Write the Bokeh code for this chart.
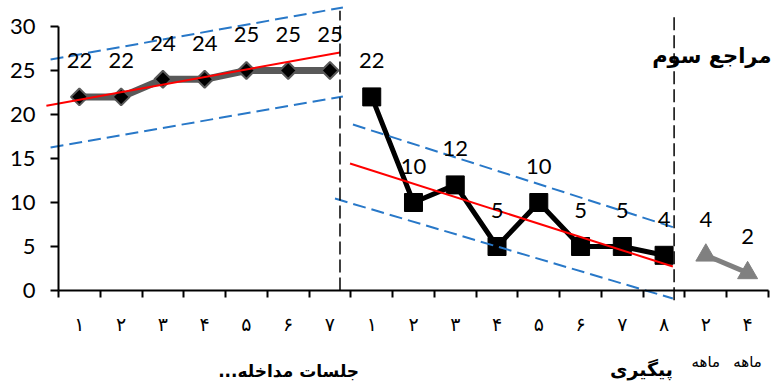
import numpy as np
from bokeh.plotting import figure
from bokeh.models import FixedTicker, ColumnDataSource, LabelSet, Label, Range1d
from bokeh.embed import file_html
from bokeh.resources import INLINE
from bokeh.core.properties import value

# ---- data ----
baseline_x = [1, 2, 3, 4, 5, 6, 7]
baseline_y = [22, 22, 24, 24, 25, 25, 25]
treat_x = [8, 9, 10, 11, 12, 13, 14, 15]
treat_y = [22, 10, 12, 5, 10, 5, 5, 4]
follow_x = [16, 17]
follow_y = [4, 2]
tick_labels = ["۱", "۲", "۳", "۴", "۵", "۶", "۷",
               "۱", "۲", "۳", "۴", "۵", "۶", "۷", "۸",
               "۲", "۴"]
y_ticks = [0, 5, 10, 15, 20, 25, 30]

# trend / band line end points (x in category units, y in values)
base_trend_x = [0.21, 7.24]
base_trend_y = [21.0, 27.05]
base_upper_x = [0.31, 7.31]
base_upper_y = [26.25, 32.16]
base_lower_x = [0.31, 7.31]
base_lower_y = [16.25, 22.05]
treat_trend_x = [7.48, 15.21]
treat_trend_y = [14.43, 2.73]
treat_upper_x = [7.55, 15.31]
treat_upper_y = [18.86, 7.05]
treat_lower_x = [7.12, 15.21]
treat_lower_y = [10.45, -0.91]

# phase change lines
phase_x = [7.24, 15.24]
phase_y0 = [0, -1.1]
phase_y1 = [31.8, 31.5]

LATIN = "Lato"
ARABIC = "DejaVu Sans"

p = figure(width=773, height=383, output_backend="svg", toolbar_location=None,
           x_range=Range1d(-0.889, 17.62), y_range=Range1d(-10.568, 32.955),
           min_border=0, min_border_left=0, min_border_right=0,
           min_border_top=0, min_border_bottom=0)
p.outline_line_color = None
p.xgrid.visible = False
p.ygrid.visible = False
p.background_fill_color = "white"
p.border_fill_color = "white"

# axes
xa = p.xaxis[0]
xa.fixed_location = 0
xa.bounds = (0.5, 17.5)
xa.ticker = FixedTicker(ticks=list(range(1, 18)),
                        minor_ticks=[i + 0.5 for i in range(0, 18)])
xa.major_label_overrides = {i + 1: t for i, t in enumerate(tick_labels)}
xa.major_tick_line_color = None
xa.major_tick_out = 7
xa.major_tick_in = 0
xa.minor_tick_out = 7
xa.minor_tick_in = 0
xa.minor_tick_line_color = "black"
xa.minor_tick_line_width = 2
xa.axis_line_width = 2
xa.axis_line_color = "black"
xa.major_label_text_font = ARABIC
xa.major_label_text_font_size = "19px"
xa.major_label_text_color = "black"
xa.major_label_standoff = 15

ya = p.yaxis[0]
ya.fixed_location = 0.5
ya.bounds = (0, 30)
ya.ticker = FixedTicker(ticks=y_ticks)
ya.minor_tick_line_color = None
ya.major_tick_out = 8
ya.major_tick_in = 0
ya.major_tick_line_width = 2
ya.axis_line_width = 2
ya.axis_line_color = "black"
ya.major_label_text_font = LATIN
ya.major_label_text_font_size = "22px"
ya.major_label_text_color = "black"
ya.major_label_standoff = 15

# series
p.line(baseline_x, baseline_y, line_color="#595959", line_width=7)
p.scatter(baseline_x, baseline_y, marker="square", angle=np.pi / 4, size=12,
          fill_color="black", line_color="#595959", line_width=2)
p.line(treat_x, treat_y, line_color="black", line_width=5)
p.scatter(treat_x, treat_y, marker="square", size=18,
          fill_color="black", line_color="black")
p.line(follow_x, follow_y, line_color="#808080", line_width=5)
p.scatter(follow_x, follow_y, marker="triangle", size=20,
          fill_color="#808080", line_color="#808080")

# trend lines and bands
BLUE = "#2878C8"
p.line(base_trend_x, base_trend_y, line_color="red", line_width=2)
p.line(base_upper_x, base_upper_y, line_color=BLUE, line_width=2, line_dash="13 6")
p.line(base_lower_x, base_lower_y, line_color=BLUE, line_width=2, line_dash="13 6")
p.line(treat_trend_x, treat_trend_y, line_color="red", line_width=2)
p.line(treat_upper_x, treat_upper_y, line_color=BLUE, line_width=2, line_dash="13 6")
p.line(treat_lower_x, treat_lower_y, line_color=BLUE, line_width=2, line_dash="13 6")

# phase lines
p.segment(x0=phase_x, y0=phase_y0, x1=phase_x, y1=phase_y1,
          line_color="black", line_width=1.5, line_dash="13 5")

# data labels
all_x = baseline_x + treat_x + follow_x
all_y = baseline_y + treat_y + follow_y
src = ColumnDataSource(dict(x=all_x, y=all_y, t=[str(v) for v in all_y]))
p.add_layout(LabelSet(x="x", y="y", text="t", source=src, y_offset=36,
                      text_align="center", text_baseline="middle",
                      text_font=value(LATIN), text_font_size="22px",
                      text_color="black"))

# group titles
p.add_layout(Label(x=6.01, y=-9.2, text="جلسات مداخله...\u200f", text_align="center",
                   text_baseline="middle", text_font=ARABIC,
                   text_font_size="17px", text_font_style="bold", text_color="black"))
p.add_layout(Label(x=14.46, y=-8.9, text="پیگیری", text_align="center",
                   text_baseline="middle", text_font=ARABIC,
                   text_font_size="19px", text_font_style="bold", text_color="black"))
for fx in follow_x:
    p.add_layout(Label(x=fx, y=-8.1, text="ماهه", text_align="center",
                       text_baseline="middle", text_font=ARABIC,
                       text_font_size="15px", text_color="black"))
p.add_layout(Label(x=17.57, y=26.6, text="مراجع سوم", text_align="right",
                   text_baseline="middle", text_font=ARABIC,
                   text_font_size="21px", text_font_style="bold", text_color="black"))

open("out.html", "w").write(file_html(p, INLINE))
